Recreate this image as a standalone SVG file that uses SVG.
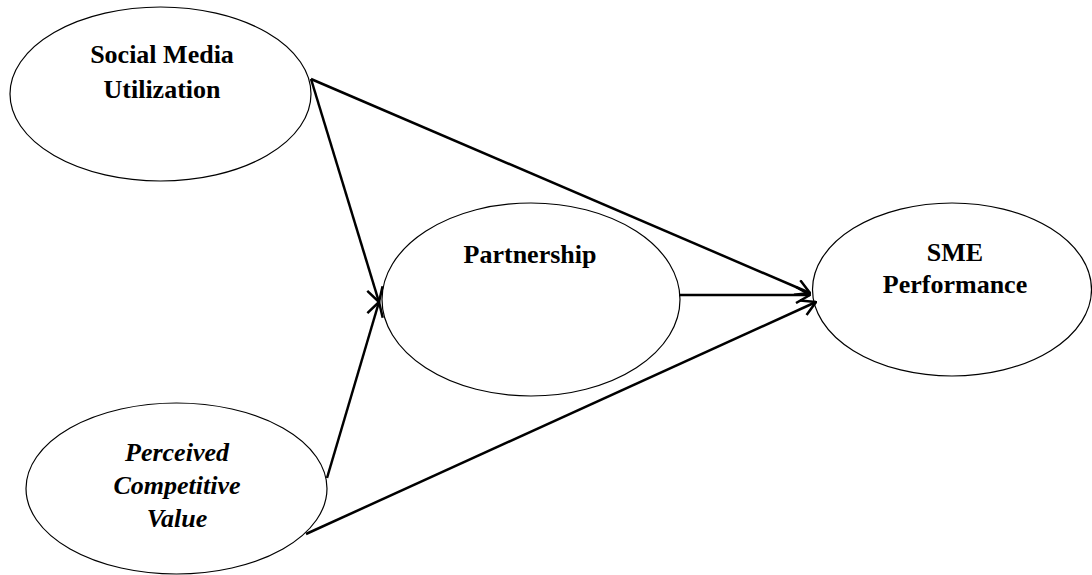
<svg xmlns="http://www.w3.org/2000/svg" width="1092" height="575" viewBox="0 0 1092 575">
<style>
.node ellipse{fill:#fff;stroke:#000;stroke-width:1.2}
.lbl{font-family:"Liberation Serif","Times New Roman",serif;font-size:26px;font-weight:bold;text-anchor:middle;fill:#000}
.it{font-style:italic}
.conn line{stroke:#000;stroke-width:2.5;fill:none;marker-end:url(#arr)}
</style>
<defs>
<marker id="arr" markerUnits="userSpaceOnUse" viewBox="0 0 16 18" refX="15" refY="9" markerWidth="16" markerHeight="18" orient="auto">
<path d="M1,1 L15,9 L1,17" fill="none" stroke="#000" stroke-width="2.5"/>
</marker>
</defs>
<rect width="1092" height="575" fill="#fff"/>
<g id="smu" class="node">
<ellipse cx="160.5" cy="94" rx="150.5" ry="87"/>
<text class="lbl" x="162" y="63">Social Media</text>
<text class="lbl" x="162" y="98">Utilization</text>
</g>
<g id="pcv" class="node">
<ellipse cx="176.5" cy="488.5" rx="150.5" ry="85.5"/>
<text class="lbl it" x="177" y="461">Perceived</text>
<text class="lbl it" x="177" y="494">Competitive</text>
<text class="lbl it" x="177" y="527">Value</text>
</g>
<g id="partnership" class="node">
<ellipse cx="531" cy="299.5" rx="149" ry="96.5"/>
<text class="lbl" x="530" y="263">Partnership</text>
</g>
<g id="sme" class="node">
<ellipse cx="952" cy="289.5" rx="139.5" ry="86.5"/>
<text class="lbl" x="955" y="261">SME</text>
<text class="lbl" x="955" y="293">Performance</text>
</g>
<g id="connectors" class="conn">
<line x1="311" y1="79" x2="379" y2="302"/>
<line x1="327" y1="478" x2="379" y2="302"/>
<line x1="311" y1="79" x2="810" y2="293"/>
<line x1="679" y1="295" x2="810" y2="295"/>
<line x1="306" y1="534" x2="816" y2="302"/>
</g>
</svg>
